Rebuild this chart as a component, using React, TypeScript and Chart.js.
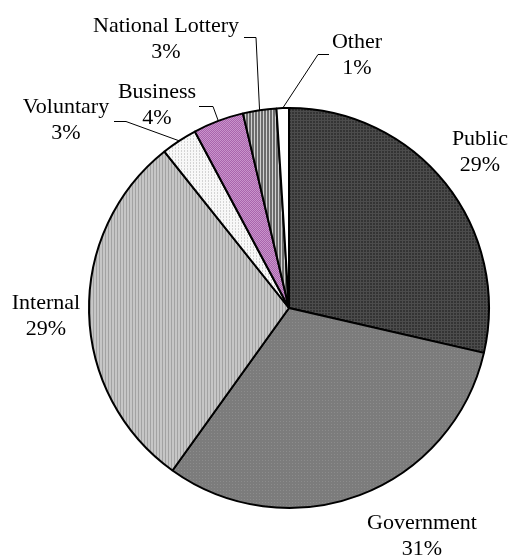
import React, { useEffect, useRef } from "react";
import { Chart, registerables } from "chart.js";

Chart.register(...registerables);

const categories = ["Public", "Government", "Internal", "Voluntary", "Business", "National Lottery", "Other"];
const shares = [28.6, 31.3, 29.4, 2.9, 4.1, 2.7, 1.0];

// Label layout relative to pie centre: [dx, dy of first-line baseline]
const labelOffsets: [number, number][] = [
  [191, -163],
  [133, 221],
  [-243, 1],
  [-223, -195],
  [-132, -210],
  [-123, -276],
  [68, -260],
];
// Leader lines: [startDx, startDy, elbowDx, elbowDy] or null
const leaders: ([number, number, number, number] | null)[] = [
  null,
  null,
  null,
  [-175, -187, -163, -187],
  [-90, -202, -76, -202],
  [-45, -271, -33, -271],
  [40, -254, 29, -254],
];

function makePattern(w: number, h: number, bg: string, draw: (x: CanvasRenderingContext2D) => void) {
  const c = document.createElement("canvas");
  c.width = w;
  c.height = h;
  const x = c.getContext("2d")!;
  x.fillStyle = bg;
  x.fillRect(0, 0, w, h);
  draw(x);
  return x.createPattern(c, "repeat")!;
}

export default function App() {
  const ref = useRef<HTMLCanvasElement>(null);

  useEffect(() => {
    const canvas = ref.current!;
    const fills = [
      makePattern(3, 3, "#343434", (x) => {
        x.fillStyle = "#4c4c4c";
        x.fillRect(0, 0, 3, 1);
        x.fillRect(0, 0, 1, 3);
      }),
      makePattern(3, 3, "#7c7c7c", (x) => {
        x.fillStyle = "#8c8c8c";
        x.fillRect(1, 1, 1, 1);
      }),
      makePattern(3, 1, "#c6c6c6", (x) => {
        x.fillStyle = "#a2a2a2";
        x.fillRect(0, 0, 1, 1);
      }),
      makePattern(3, 3, "#f8f8f8", (x) => {
        x.fillStyle = "#d4d4d4";
        x.fillRect(1, 0, 1, 2);
      }),
      makePattern(2, 2, "#a964ad", (x) => {
        x.fillStyle = "#c994cb";
        x.fillRect(0, 0, 1, 1);
        x.fillRect(1, 1, 1, 1);
      }),
      makePattern(3, 1, "#6c6c6c", (x) => {
        x.fillStyle = "#d0d0d0";
        x.fillRect(2, 0, 1, 1);
      }),
      "#ffffff",
    ];

    const labelPlugin = {
      id: "pieLabels",
      afterDraw(chart: any) {
        const ctx: CanvasRenderingContext2D = chart.ctx;
        const meta = chart.getDatasetMeta(0);
        const data: number[] = chart.data.datasets[0].data;
        const total = data.reduce((a, b) => a + b, 0);
        ctx.save();
        ctx.font = '22px "Liberation Serif", "Times New Roman", serif';
        ctx.fillStyle = "#000";
        ctx.textAlign = "center";
        ctx.textBaseline = "alphabetic";
        meta.data.forEach((arc: any, i: number) => {
          const cx = arc.x;
          const cy = arc.y;
          const [dx, dy] = labelOffsets[i];
          const pct = Math.round((data[i] / total) * 100) + "%";
          ctx.fillText(String(chart.data.labels[i]), cx + dx, cy + dy);
          ctx.fillText(pct, cx + dx, cy + dy + 26);
          const l = leaders[i];
          if (l) {
            const mid = (arc.startAngle + arc.endAngle) / 2;
            const ax = cx + Math.cos(mid) * arc.outerRadius;
            const ay = cy + Math.sin(mid) * arc.outerRadius;
            ctx.beginPath();
            ctx.strokeStyle = "#000";
            ctx.lineWidth = 1;
            ctx.moveTo(cx + l[0], cy + l[1] + 0.5);
            ctx.lineTo(cx + l[2], cy + l[3] + 0.5);
            ctx.lineTo(ax, ay);
            ctx.stroke();
          }
        });
        ctx.restore();
      },
    };

    const chart = new Chart(canvas, {
      type: "pie",
      data: {
        labels: categories,
        datasets: [
          {
            data: shares,
            backgroundColor: fills as any,
            borderColor: "#000000",
            borderWidth: 2,
          },
        ],
      },
      options: {
        responsive: false,
        animation: false,
        events: [],
        layout: { padding: { left: 88, right: 19, top: 107, bottom: 50 } },
        plugins: {
          legend: { display: false },
          tooltip: { enabled: false },
        },
      },
      plugins: [labelPlugin],
    });
    return () => chart.destroy();
  }, []);

  return (
    <div style={{ position: "fixed", left: 0, top: 0, width: 509, height: 559, background: "#fff" }}>
      <canvas ref={ref} width={509} height={559} style={{ display: "block" }} />
    </div>
  );
}
